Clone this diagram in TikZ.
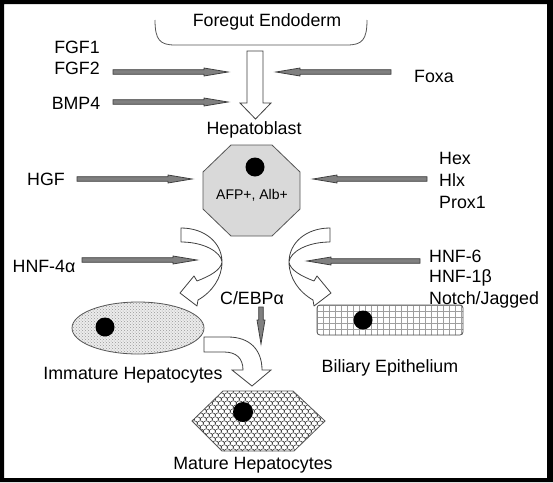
\documentclass[tikz,border=0pt]{standalone}
\usepackage{fontspec}
\setmainfont{Liberation Sans}
\usetikzlibrary{calc,patterns}
\definecolor{sigfill}{HTML}{808080}
\definecolor{sigline}{HTML}{404040}
\definecolor{octfill}{HTML}{D9D9D9}
\definecolor{edgecol}{HTML}{555555}
\newcommand\sigarr[2]{%
  \path ($(#2)!24pt!(#1)$) coordinate (sgH);
  \filldraw[sigstyle]
    ($(#1)!2.3pt!90:(#2)$) -- ($(sgH)!2.3pt!90:(#2)$) -- ($(sgH)!4pt!90:(#2)$) -- (#2)
    -- ($(sgH)!4pt!-90:(#2)$) -- ($(sgH)!2.3pt!-90:(#2)$) -- ($(#1)!2.3pt!-90:(#2)$) -- cycle;}
\tikzset{
  lbl/.style={font=\fontsize{17.8}{22}\selectfont, inner sep=0pt},
  small/.style={font=\fontsize{14}{17}\selectfont, inner sep=0pt},
  sigstyle/.style={fill=sigfill, draw=sigline, line width=0.8pt},
  hollow/.style={fill=white, draw=sigline, line width=0.8pt, line join=miter},
  cellline/.style={draw=edgecol, line width=0.8pt},
  nucleus/.style={fill=black},
}
\begin{document}
\begin{tikzpicture}[x=1pt,y=-1pt]
\useasboundingbox (0,0) rectangle (553,482);
\fill[white] (0,0) rectangle (553,482);
\fill[black, even odd rule] (0,0) rectangle (553,482) (4,4) rectangle (547,478);

% Foregut endoderm
\node[lbl] (fe) at (267,22) {Foregut Endoderm};
\draw[edgecol, line width=0.8pt] (155,20) .. controls (155,40) and (160,45) .. (175,45) -- (347,45) .. controls (362,45) and (367,40) .. (367,20);

% big hollow arrow
\draw[hollow] (247,51) -- (263,51) -- (263,103) -- (271,103) -- (255.5,119) -- (240,103) -- (247,103) -- cycle;
\node[lbl] (hb) at (254,130) {Hepatoblast};

% left signals top
\node[lbl] (fgf1) at (77,47) {FGF1};
\node[lbl] (fgf2) at (77,68) {FGF2};
\node[lbl] (bmp4) at (76,103) {BMP4};
\node[lbl] (foxa) at (434,76) {Foxa};
\coordinate (a1s) at (113,72); \coordinate (a1e) at (228,72);
\coordinate (a2s) at (113,102); \coordinate (a2e) at (228,102);
\coordinate (a3s) at (391,72); \coordinate (a3e) at (276,72);
\sigarr{a1s}{a1e}
\sigarr{a2s}{a2e}
\sigarr{a3s}{a3e}

% octagon hepatoblast
\filldraw[fill=octfill, cellline] (231,145) -- (272,145) -- (300,172) -- (300,209) -- (272,236) -- (231,236) -- (203,209) -- (203,172) -- cycle;
\fill[nucleus] (255,167) circle (9.5);
\node[small] (afp) at (252,195) {AFP+, Alb+};

\node[lbl] (hgf) at (46,179) {HGF};
\node[lbl, anchor=west] (hex) at (439,158) {Hex};
\node[lbl, anchor=west] (hlx) at (439,180) {Hlx};
\node[lbl, anchor=west] (prox) at (439,202) {Prox1};
\coordinate (a4s) at (77,179); \coordinate (a4e) at (192,179);
\coordinate (a5s) at (427,179); \coordinate (a5e) at (313,179);
\sigarr{a4s}{a4e}
\sigarr{a5s}{a5e}

% curved arrows
\filldraw[hollow, line join=round]
  (181,228) .. controls (205,228) and (222,243) .. (222,262)
  .. controls (222,278) and (212,292) .. (198,300)
  -- (197,306) -- (180,293) -- (194,276) -- (197,281)
  .. controls (210,276) and (221,270) .. (222,262)
  .. controls (221,252) and (204,242) .. (181,242) -- cycle;
\begin{scope}[xshift=511pt, xscale=-1]
\filldraw[hollow, line join=round]
  (181,228) .. controls (205,228) and (222,243) .. (222,262)
  .. controls (222,278) and (212,292) .. (198,300)
  -- (197,306) -- (180,293) -- (194,276) -- (197,281)
  .. controls (210,276) and (221,270) .. (222,262)
  .. controls (221,252) and (204,242) .. (181,242) -- cycle;
\end{scope}

\node[lbl] (hnf4) at (44,266) {HNF-4α};
\node[lbl, anchor=west] (hnf6) at (429,256) {HNF-6};
\node[lbl, anchor=west] (hnf1) at (429,278) {HNF-1β};
\node[lbl, anchor=west] (notch) at (429,300) {Notch/Jagged};
\coordinate (a6s) at (82,260); \coordinate (a6e) at (197,260);
\coordinate (a7s) at (420,261); \coordinate (a7e) at (307,261);
\sigarr{a6s}{a6e}
\sigarr{a7s}{a7e}

\node[lbl] (cebp) at (252,298) {C/EBPα};
\coordinate (a8s) at (261,307); \coordinate (a8e) at (261,344);
\sigarr{a8s}{a8e}

% immature hepatocytes ellipse
\fill[gray!15] (138,328) ellipse [x radius=66, y radius=26];
\fill[pattern=crosshatch dots, pattern color=gray!80] (138,328) ellipse [x radius=66, y radius=26];
\draw[cellline] (138,328) ellipse [x radius=66, y radius=26];
\fill[nucleus] (105,327) circle (9.5);
\node[lbl] (imm) at (133,375) {Immature Hepatocytes};

% bottom curved arrow
\filldraw[hollow]
  (204,337) -- (228,337) .. controls (250,337) and (262,350) .. (262,370)
  -- (271,370) -- (252,386) -- (232,370) -- (243,370)
  .. controls (243,358) and (236,352) .. (224,352) -- (204,352) -- cycle;

% biliary epithelium
\begin{scope}
\clip[rounded corners=3pt] (317,305) rectangle (463,335);
\foreach \k in {0,...,25} \draw[gray!75, line width=0.6pt] ({317+\k*6},300) -- ({317+\k*6},340);
\foreach \k in {0,...,5} \draw[gray!75, line width=0.6pt] (312,{305+\k*6}) -- (470,{305+\k*6});
\end{scope}
\draw[cellline, rounded corners=3pt] (317,305) rectangle (463,335);
\fill[nucleus] (363,320) circle (9.5);
\node[lbl] (bil) at (390,368) {Biliary Epithelium};

% mature hepatocytes hexagon
\begin{scope}
\clip (223,391) -- (293,391) -- (325,421) -- (294,451) -- (222,451) -- (192,421) -- cycle;
\foreach \j [evaluate=\j as \off using {mod(\j,2)*3}] in {0,...,17}
  \foreach \i in {0,...,23}
    \draw[black!80, line width=0.55pt] ({188+\i*6+\off},{388+\j*4}) arc[start angle=180, end angle=360, radius=3.3];
\end{scope}
\draw[cellline] (223,391) -- (293,391) -- (325,421) -- (294,451) -- (222,451) -- (192,421) -- cycle;
\fill[nucleus] (243,412) circle (10);
\node[lbl] (mat) at (253,465) {Mature Hepatocytes};
\end{tikzpicture}
\end{document}
